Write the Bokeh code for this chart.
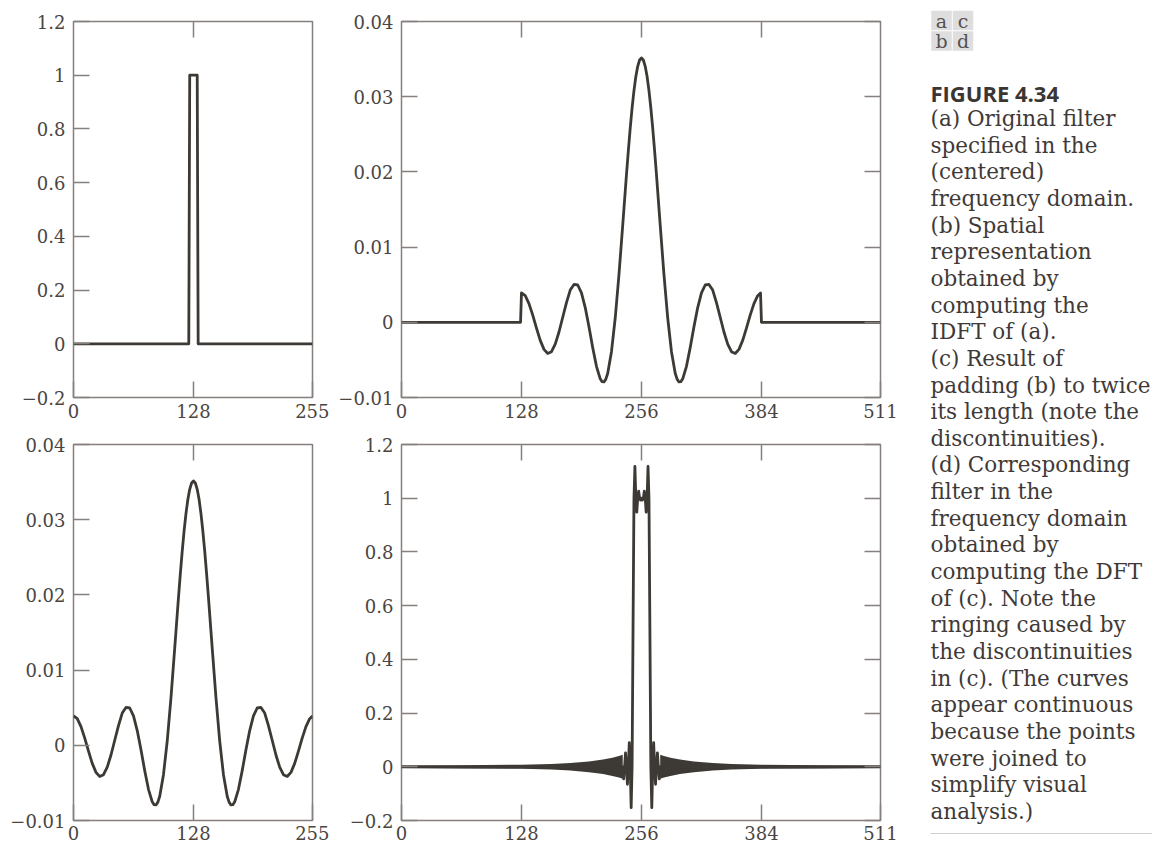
import numpy as np
from bokeh.plotting import figure
from bokeh.models import Range1d, LinearAxis, FixedTicker
from bokeh.layouts import row, column
from bokeh.embed import file_html
from bokeh.resources import INLINE
from bokeh.core.properties import value

# ---------------- data ----------------
# (a) original filter, centered frequency domain (256 samples)
a_index = [0, 123, 124, 132, 133, 255]
a_values = [0, 0, 1, 1, 0, 0]

# (c) spatial representation (256 samples), denser sampling near peak and troughs
c_index = [0, 4, 8, 12, 16, 20, 24, 28, 32, 36, 40, 44, 48, 52, 56, 60,
           64, 68, 72, 76, 80, 84, 86, 88, 90, 92, 96, 100, 104, 108, 112,
           114, 116, 118, 120, 122, 124, 126, 128, 130, 132, 134, 136, 138, 140, 142,
           144, 148, 152, 156, 160, 164, 166, 168, 170, 172, 176, 180, 184, 188,
           192, 196, 200, 204, 208, 212, 216, 220, 224, 228, 232, 236, 240, 244,
           248, 252, 255]
c_values = [
    0.00391, 0.00354, 0.00249, 0.00096, -0.00078, -0.00240, -0.00360, -0.00414,
    -0.00391, -0.00290, -0.00129, 0.00067, 0.00261, 0.00429, 0.00503, 0.00496,
    0.00391, 0.00196, -0.00060, -0.00337, -0.00585, -0.00752, -0.00790, -0.00793, -0.00756, -0.00677,
    -0.00391, 0.00057, 0.00634, 0.01291, 0.01964,
    0.02284, 0.02582, 0.02850, 0.03081, 0.03268, 0.03404, 0.03488, 0.03516,
    0.03488, 0.03404, 0.03268, 0.03081, 0.02850, 0.02582, 0.02284,
    0.01964, 0.01291, 0.00634, 0.00057, -0.00391, -0.00677, -0.00756, -0.00793, -0.00790, -0.00752,
    -0.00585, -0.00337, -0.00060, 0.00196, 0.00391,
    0.00496, 0.00503, 0.00429, 0.00261, 0.00067, -0.00129, -0.00290, -0.00391,
    -0.00414, -0.00360, -0.00240, -0.00078, 0.00096, 0.00249, 0.00354, 0.00389,
]

# (b) = (c) padded with zeros to 512 samples
pad_left_index = [0, 127]
pad_right_index = [384, 511]
b_index = pad_left_index + [i + 128 for i in c_index] + pad_right_index
b_values = [0, 0] + c_values + [0, 0]

# (d) DFT of the padded signal: samples around the pass band
d_core_index = list(range(236, 277))
d_core_values = [
    0, -0.045, 0, 0.052, 0, -0.065, 0, 0.09, 0, -0.152, 0, 0.51,
    1, 1.118, 1, 0.948, 1, 1.026, 1, 0.993, 1, 0.993, 1, 1.026, 1, 0.948, 1, 1.118, 1,
    0.51, 0, -0.152, 0, 0.09, 0, -0.065, 0, 0.052, 0, -0.045, 0,
]
d_index = [0] + d_core_index + [511]
d_values = [0] + d_core_values + [0]
# envelope of the fast ringing away from the pass band
ring_left_index = [0, 64, 128, 160, 180, 200, 215, 225, 232, 236]
ring_left_amp = [0.0045, 0.006, 0.0075, 0.010, 0.014, 0.020, 0.027, 0.034, 0.040, 0.045]
ring_right_index = [276, 280, 287, 297, 312, 332, 352, 384, 448, 511]
ring_right_amp = [0.045, 0.040, 0.034, 0.027, 0.020, 0.014, 0.010, 0.0075, 0.006, 0.0045]

# ticks
x256_ticks = [0, 128, 255]
x512_ticks = [0, 128, 256, 384, 511]
x256_inner = [128]
x512_inner = [128, 256, 384]
unit_yticks = [-0.2, 0, 0.2, 0.4, 0.6, 0.8, 1, 1.2]
small_yticks = [-0.01, 0, 0.01, 0.02, 0.03, 0.04]

caption_boxes = ["a", "c", "b", "d"]
caption_title = "FIGURE 4.34"
caption_lines = [
    "(a) Original filter", "specified in the", "(centered)", "frequency domain.",
    "(b) Spatial", "representation", "obtained by", "computing the", "IDFT of (a).",
    "(c) Result of", "padding (b) to twice", "its length (note the", "discontinuities).",
    "(d) Corresponding", "filter in the", "frequency domain", "obtained by",
    "computing the DFT", "of (c). Note the", "ringing caused by", "the discontinuities",
    "in (c). (The curves", "appear continuous", "because the points", "were joined to",
    "simplify visual", "analysis.)",
]

# ---------------- style ----------------
CURVE = "#3d3935"
FRAME = "#85807d"
LABEL = "#4a4542"
SERIF = "DejaVu Serif"
LW = 2.8


def fmt(v):
    return ("%g" % v).replace("-", "\u2212")


def style_axis(ax, ticks, show_labels, standoff):
    ax.ticker = FixedTicker(ticks=ticks)
    ax.axis_line_color = None
    ax.major_tick_in = 16
    ax.major_tick_out = 0
    ax.major_tick_line_color = FRAME
    ax.major_tick_line_width = 1.5
    ax.minor_tick_line_color = None
    ax.major_label_standoff = standoff
    if show_labels:
        ax.major_label_overrides = {t: fmt(t) for t in ticks}
        ax.major_label_text_font = SERIF
        ax.major_label_text_font_size = "18px"
        ax.major_label_text_color = LABEL
    else:
        ax.major_label_text_font_size = "0px"
        ax.major_label_text_alpha = 0


def make_panel(width, height, bl, br, bt, bb, xr, yr, xticks, xinner, yticks, mirror_y, xstand):
    p = figure(width=width, height=height, x_range=Range1d(*xr), y_range=Range1d(*yr),
               output_backend="svg", toolbar_location=None,
               min_border_left=bl, min_border_right=br, min_border_top=bt, min_border_bottom=bb)
    p.xgrid.visible = False
    p.ygrid.visible = False
    p.outline_line_color = FRAME
    p.outline_line_width = 1.5
    p.background_fill_color = "white"
    p.border_fill_color = "white"
    style_axis(p.xaxis[0], xticks, True, xstand)
    style_axis(p.yaxis[0], yticks, True, 8)
    top = LinearAxis()
    style_axis(top, xinner, False, 0)
    p.add_layout(top, "above")
    if mirror_y:
        right = LinearAxis()
        style_axis(right, yticks, False, 0)
        p.add_layout(right, "right")
    return p


# top row frames: y 21..397, bottom row frames: y 444..820
pa = make_panel(329, 430, 73, 17, 21, 33, (0, 255), (-0.2, 1.2), x256_ticks, x256_inner, unit_yticks, False, 6)
pb = make_panel(571, 430, 72, 20, 21, 33, (0, 511), (-0.01, 0.04), x512_ticks, x512_inner, small_yticks, True, 6)
pc = make_panel(329, 416, 73, 17, 14, 26, (0, 255), (-0.01, 0.04), x256_ticks, x256_inner, small_yticks, False, 5)
pd_ = make_panel(571, 416, 72, 20, 14, 26, (0, 511), (-0.2, 1.2), x512_ticks, x512_inner, unit_yticks, True, 5)

pa.line(a_index, a_values, line_width=LW, line_color=CURVE, line_join="round")
pb.line(b_index, b_values, line_width=LW, line_color=CURVE, line_join="round")
pc.line(c_index, c_values, line_width=LW, line_color=CURVE, line_join="round")

pd_.varea(x=ring_left_index, y1=[-v for v in ring_left_amp], y2=ring_left_amp, fill_color=CURVE)
pd_.varea(x=ring_right_index, y1=[-v for v in ring_right_amp], y2=ring_right_amp, fill_color=CURVE)
pd_.line(d_index, d_values, line_width=LW, line_color=CURVE, line_join="round")

# ---------------- caption column ----------------
cap = figure(width=252, height=846, x_range=Range1d(900, 1152), y_range=Range1d(846, 0),
             output_backend="svg", toolbar_location=None, min_border=0,
             x_axis_location=None, y_axis_location=None)
cap.outline_line_color = None
cap.xgrid.visible = False
cap.ygrid.visible = False
cap.background_fill_color = "white"
cap.border_fill_color = "white"

box_x = [941, 962.5, 941, 962.5]
box_y = [20, 20, 40.5, 40.5]
cap.rect(x=box_x, y=box_y, width=20.5, height=19.5, fill_color="#dedede", line_color=None)
cap.text(x=box_x, y=box_y, text=caption_boxes, text_font=value(SERIF), text_font_size="19px",
         text_color="#555150", text_align="center", text_baseline="middle")

cap.text(x=[930], y=[92], text=[caption_title], text_font=value("Open Sans"),
         text_font_style="bold", text_font_size="22px", text_color="#3a3633",
         text_align="left", text_baseline="middle")

line_y = [118 + 26.65 * i for i in range(len(caption_lines))]
cap.text(x=[930] * len(caption_lines), y=line_y, text=caption_lines, text_font=value(SERIF),
         text_font_size="21.5px", text_color="#3f3a37", text_align="left", text_baseline="middle")
cap.segment(x0=[930], y0=[833], x1=[1152], y1=[833], line_color="#cfcfcf", line_width=1)

layout = row(column(row(pa, pb), row(pc, pd_)), cap)

open("out.html", "w").write(file_html(layout, INLINE))
